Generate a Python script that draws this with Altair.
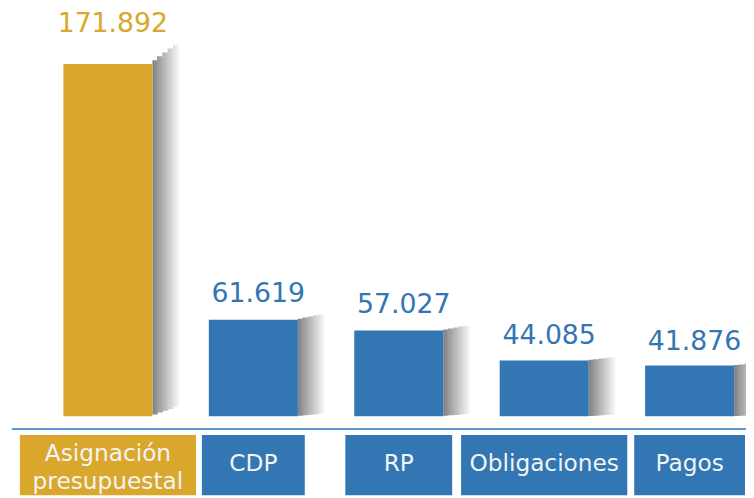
import altair as alt
import pandas as pd

# ---- data ----
categories = ["Asignación presupuestal", "CDP", "RP", "Obligaciones", "Pagos"]
values = [171.892, 61.619, 57.027, 44.085, 41.876]
value_labels = ["171.892", "61.619", "57.027", "44.085", "41.876"]
box_lines = [["Asignación", "presupuestal"], ["CDP"], ["RP"], ["Obligaciones"], ["Pagos"]]

# ---- styles ----
GOLD = "#D8A72C"
BLUE = "#3276B3"
bar_colors = [GOLD, BLUE, BLUE, BLUE, BLUE]
text_colors = ["#D8A63A", "#3A7BB8", "#3A7BB8", "#3A7BB8", "#3A7BB8"]
box_widths = [178, 104, 108, 168, 112]
FONT = "DejaVu Sans"
BASE = 20
K = 5
SIDE_W = 27.0
step_w = SIDE_W / K


def gray(t):
    lo, hi = 0x80, 0xF8
    g = int(round(lo + (hi - lo) * t))
    return f"#{g:02x}{g:02x}{g:02x}"


df = pd.DataFrame({"cat": categories, "value": values, "label": value_labels})

xenc = alt.X("cat:N", sort=categories, axis=None,
             scale=alt.Scale(range=[27.5, 762.5], paddingInner=0, paddingOuter=0))
yscale = alt.Scale(domain=[BASE, max(values)], range=[410, 54], nice=False, zero=False)

base = alt.Chart(df)
layers = []

# side shading (stepped perspective face with gradient)
for k in range(K):
    f = (k + 1) / K
    grad = alt.LinearGradient(
        gradient="linear", x1=0, x2=1, y1=0, y2=0,
        stops=[alt.GradientStop(color=gray(k / K), offset=0),
               alt.GradientStop(color=gray((k + 1) / K), offset=1)],
    )
    w = step_w + (0.8 if k > 0 else 0)
    center = 45 + k * step_w + step_w / 2 - (0.4 if k > 0 else 0)
    side = base.transform_calculate(
        top=f"datum.value + 0.055*(datum.value-{BASE})*{f}",
        bot=f"{BASE} + 0.026*(datum.value-{BASE})*{f}",
    ).mark_bar(width=w, xOffset=center, color=grad, clip=True).encode(
        x=xenc,
        y=alt.Y("top:Q", scale=yscale, axis=None),
        y2="bot:Q",
    )
    layers.append(side)

# front bars
front = base.mark_bar(width=90, clip=True).encode(
    x=xenc,
    y=alt.Y("value:Q", scale=yscale, axis=None),
    y2=alt.datum(BASE),
    color=alt.Color("cat:N", scale=alt.Scale(domain=categories, range=bar_colors), legend=None),
)
layers.append(front)

# value labels
vals = base.transform_calculate(
    ttop=f"datum.value + 0.055*(datum.value-{BASE})"
).mark_text(font=FONT, fontSize=27, baseline="alphabetic", align="center", dx=5, dy=-13).encode(
    x=xenc,
    y=alt.Y("ttop:Q", scale=yscale, axis=None),
    text="label:N",
    color=alt.Color("cat:N", scale=alt.Scale(domain=categories, range=text_colors), legend=None),
)
layers.append(vals)

# separator line
line = alt.Chart(df).mark_rule(color="#5B9BD5", strokeWidth=2).encode(
    x=alt.value(4), x2=alt.value(746), y=alt.value(423)
)
layers.append(line)

# label boxes and their text
for i, c in enumerate(categories):
    sub = base.transform_filter(alt.datum.cat == c)
    box = sub.mark_bar(width=box_widths[i], color=bar_colors[i], clip=True).encode(
        x=xenc, y=alt.value(429), y2=alt.value(500)
    )
    n = len(box_lines[i])
    txt = sub.mark_text(
        text=box_lines[i] if n > 1 else box_lines[i][0],
        font=FONT, fontSize=23.5, color="#F4F4F4", align="center",
        baseline="alphabetic", lineHeight=29,
    ).encode(x=xenc, y=alt.value(465 - 10 * (n - 1)))
    layers += [box, txt]

chart = alt.layer(*layers).properties(
    width=746, height=490,
    autosize=alt.AutoSizeParams(type="none"),
    padding=0,
).configure_view(stroke=None)

chart.save("out.html", embed_options={"renderer": "svg", "actions": False})
